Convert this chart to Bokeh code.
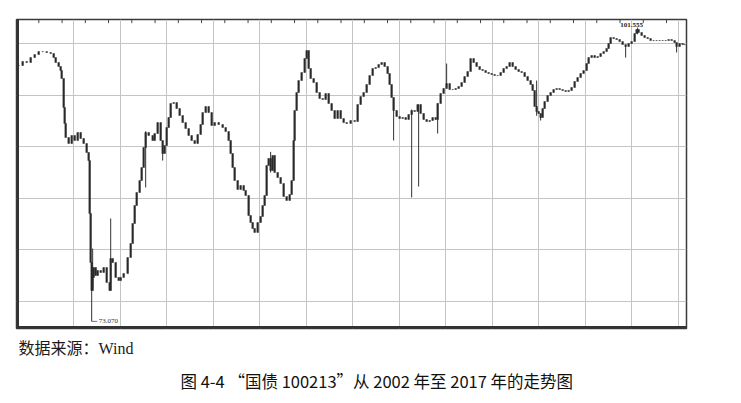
import numpy as np
from bokeh.plotting import figure
from bokeh.models import Range1d, Title, Label, FixedTicker, ColumnDataSource, Span
from bokeh.embed import file_html
from bokeh.resources import INLINE

# ---- data ----
t = [2002.817, 2002.903, 2002.989, 2003.075, 2003.161, 2003.247, 2003.333, 2003.419, 2003.505, 2003.570,
     2003.613, 2003.677, 2003.720, 2003.742, 2003.785, 2003.806, 2003.828, 2003.892, 2003.957, 2004.021,
     2004.086, 2004.150, 2004.215, 2004.279, 2004.322, 2004.344, 2004.365, 2004.387, 2004.408, 2004.430,
     2004.473, 2004.516, 2004.581, 2004.645, 2004.710, 2004.774, 2004.796, 2004.839, 2004.903, 2004.968,
     2005.011, 2005.075, 2005.161, 2005.226, 2005.269, 2005.312, 2005.355, 2005.419, 2005.462, 2005.505,
     2005.548, 2005.613, 2005.699, 2005.742, 2005.806, 2005.871, 2005.914, 2005.957, 2006.000, 2006.043,
     2006.086, 2006.150, 2006.215, 2006.279, 2006.344, 2006.408, 2006.473, 2006.537, 2006.602, 2006.666,
     2006.731, 2006.774, 2006.839, 2006.903, 2006.968, 2007.032, 2007.118, 2007.204, 2007.269, 2007.333,
     2007.376, 2007.419, 2007.462, 2007.527, 2007.591, 2007.656, 2007.699, 2007.763, 2007.806, 2007.849,
     2007.892, 2007.957, 2008.021, 2008.064, 2008.107, 2008.150, 2008.193, 2008.236, 2008.279, 2008.322,
     2008.387, 2008.451, 2008.516, 2008.580, 2008.645, 2008.688, 2008.731, 2008.752, 2008.795, 2008.838,
     2008.903, 2008.968, 2009.011, 2009.054, 2009.097, 2009.161, 2009.226, 2009.290, 2009.355, 2009.419,
     2009.484, 2009.548, 2009.613, 2009.677, 2009.742, 2009.806, 2009.871, 2009.957, 2010.043, 2010.107,
     2010.172, 2010.236, 2010.301, 2010.365, 2010.430, 2010.494, 2010.559, 2010.623, 2010.688, 2010.752,
     2010.795, 2010.838, 2010.881, 2010.946, 2011.010, 2011.075, 2011.140, 2011.204, 2011.269, 2011.333,
     2011.398, 2011.462, 2011.527, 2011.591, 2011.656, 2011.720, 2011.785, 2011.828, 2011.892, 2011.957,
     2012.021, 2012.086, 2012.150, 2012.215, 2012.279, 2012.344, 2012.408, 2012.473, 2012.537, 2012.602,
     2012.666, 2012.731, 2012.795, 2012.860, 2012.924, 2012.989, 2013.053, 2013.118, 2013.183, 2013.247,
     2013.312, 2013.376, 2013.441, 2013.505, 2013.570, 2013.634, 2013.699, 2013.763, 2013.828, 2013.871,
     2013.914, 2013.957, 2014.000, 2014.043, 2014.086, 2014.129, 2014.193, 2014.258, 2014.322, 2014.387,
     2014.451, 2014.516, 2014.580, 2014.645, 2014.709, 2014.774, 2014.838, 2014.903, 2014.967, 2015.032,
     2015.075, 2015.140, 2015.204, 2015.269, 2015.333, 2015.398, 2015.462, 2015.505, 2015.548, 2015.613,
     2015.677, 2015.742, 2015.806, 2015.871, 2015.935, 2016.000, 2016.065, 2016.107, 2016.150, 2016.215,
     2016.279, 2016.344, 2016.408, 2016.473, 2016.537, 2016.602, 2016.666, 2016.731, 2016.795, 2016.860,
     2016.924, 2016.967, 2017.032, 2017.096, 2017.139]

close = [97.87, 98.26, 98.16, 98.64, 98.93, 99.22, 99.22, 99.13, 99.03, 98.64,
         98.16, 97.77, 97.38, 96.61, 93.80, 92.25, 90.89, 90.31, 91.09, 90.60,
         91.38, 90.80, 90.31, 89.44, 88.66, 83.53, 78.78, 76.07, 77.33, 78.29,
         77.52, 78.00, 77.81, 78.29, 76.84, 76.07, 79.17, 78.78, 77.33, 77.03,
         77.33, 77.71, 79.26, 80.62, 82.56, 84.30, 85.56, 86.72, 87.98, 89.92,
         91.38, 91.09, 90.60, 91.28, 92.34, 90.60, 89.34, 90.11, 91.86, 92.83,
         94.19, 94.28, 93.70, 93.02, 92.34, 91.76, 91.09, 90.60, 90.31, 91.18,
         92.15, 93.31, 93.90, 93.31, 92.05, 92.34, 92.15, 91.86, 91.47, 90.60,
         89.34, 87.98, 86.72, 85.85, 86.24, 85.76, 85.27, 83.33, 82.65, 82.07,
         81.69, 82.65, 83.24, 84.30, 85.27, 88.18, 88.86, 87.69, 89.15, 87.50,
         87.01, 86.43, 85.17, 84.79, 85.37, 86.72, 90.60, 93.51, 95.25, 96.41,
         97.19, 98.55, 99.32, 97.58, 96.61, 96.22, 95.25, 94.67, 94.57, 95.16,
         94.19, 93.51, 92.73, 93.51, 92.73, 92.34, 92.25, 92.54, 92.44, 94.09,
         94.86, 95.25, 96.03, 96.90, 97.58, 97.67, 97.97, 98.16, 97.77, 97.09,
         96.03, 94.77, 93.51, 92.93, 92.73, 92.83, 92.64, 93.12, 93.51, 93.41,
         94.09, 93.22, 92.64, 92.44, 92.54, 92.83, 92.64, 94.19, 95.16, 95.64,
         96.12, 95.54, 95.54, 95.64, 95.83, 96.22, 96.80, 97.29, 98.55, 98.16,
         97.77, 97.48, 97.38, 97.19, 97.09, 97.00, 96.90, 96.90, 97.19, 97.58,
         97.77, 98.16, 97.77, 97.48, 97.29, 97.19, 96.80, 96.41, 96.03, 95.45,
         93.90, 93.41, 93.22, 92.83, 93.70, 94.38, 94.96, 95.25, 95.54, 95.64,
         95.54, 95.45, 95.35, 95.45, 95.74, 96.32, 96.71, 97.09, 97.38, 98.06,
         98.64, 98.84, 98.64, 98.74, 99.03, 99.22, 99.52, 100.00, 100.58, 100.48,
         100.39, 100.19, 99.90, 99.71, 100.00, 100.19, 100.97, 101.36, 101.07, 100.78,
         100.58, 100.48, 100.29, 100.29, 100.29, 100.29, 100.29, 100.29, 100.39, 100.29,
         100.10, 99.71, 100.00, 99.90, 99.90]

# long wicks (date, low, high)
spike_t = [2004.387, 2004.408, 2004.796, 2005.548, 2005.914, 2008.236, 2010.881, 2011.269,
           2011.419, 2011.828, 2012.021, 2013.957, 2014.043, 2015.871, 2016.129, 2016.967]
spike_lo = [73.07, 76.50, 76.80, 86.05, 88.66, 87.50, 90.60, 85.08,
            86.14, 91.28, 95.90, 93.00, 92.54, 98.64, 100.90, 99.13]
spike_hi = [78.78, 80.13, 83.04, 91.50, 89.90, 89.50, 93.60, 93.60,
            94.10, 94.20, 98.06, 96.41, 93.00, 99.80, 101.555, 99.90]

low_t, low_v, low_text = 2004.387, 73.07, "73.070"
high_t, high_v, high_text = 2016.129, 101.555, "101.555"

year_grid = list(range(2004, 2018))
quarter_ticks = [y + q for y in range(2003, 2018) for q in (0.25, 0.75)]
price_grid = [75, 80, 85, 90, 95, 100]

x_start, x_end = 2002.77, 2017.18
y_start, y_end = 72.38, 102.33

source_text = "数据来源：Wind"
caption_text = "图 4-4  “国债 100213”从 2002 年至 2017 年的走势图"

# ---- figure ----
n = min(len(t), len(close))
tt = np.array(t[:n])
cc = np.array(close[:n])
oo = np.concatenate([[cc[0]], cc[:-1]])
src = ColumnDataSource(dict(t=tt, top=np.maximum(oo, cc), bottom=np.minimum(oo, cc)))

p = figure(width=725, height=395, output_backend="svg", toolbar_location=None,
           x_range=Range1d(x_start, x_end), y_range=Range1d(y_start, y_end),
           min_border_left=16, min_border_right=39, min_border_top=19, min_border_bottom=67,
           background_fill_color="white", border_fill_color="white")

p.xaxis.visible = False
p.yaxis.visible = False
p.outline_line_color = "#3a3a3a"
p.outline_line_width = 1.5

p.xgrid.ticker = FixedTicker(ticks=year_grid)
p.ygrid.ticker = FixedTicker(ticks=price_grid)
p.xgrid.grid_line_color = "#c4c4c4"
p.ygrid.grid_line_color = "#c4c4c4"
p.xgrid.grid_line_width = 1
p.ygrid.grid_line_width = 1

# heavy left and bottom frame edges
p.add_layout(Span(location=x_start, dimension="height", line_color="#333333", line_width=5))
p.add_layout(Span(location=y_start, dimension="width", line_color="#333333", line_width=5))

# small ticks hanging from the top edge
p.segment(x0=quarter_ticks, x1=quarter_ticks, y0=[y_end] * len(quarter_ticks),
          y1=[y_end - 0.35] * len(quarter_ticks), line_color="#444444", line_width=1)

p.segment(x0=spike_t, x1=spike_t, y0=spike_lo, y1=spike_hi, line_color="#333333", line_width=1)
p.vbar(x="t", top="top", bottom="bottom", width=0.035, source=src,
       fill_color="#2b2b2b", line_color="#2b2b2b", line_width=0.5)

# extreme labels
p.segment(x0=[low_t], x1=[low_t + 0.12], y0=[low_v], y1=[low_v], line_color="#555555", line_width=0.8)
p.add_layout(Label(x=low_t, y=low_v, text=low_text, x_offset=7, text_baseline="middle",
                   text_font_size="7px", text_color="#333333", text_font="Liberation Serif"))
p.add_layout(Label(x=high_t, y=high_v, text=high_text, x_offset=-6, y_offset=0,
                   text_align="center", text_baseline="bottom",
                   text_font_size="7px", text_color="#222222", text_font_style="bold",
                   text_font="Liberation Serif"))

# captions below
srcl = Title(text=source_text, align="left", text_font_size="16px", text_color="#1a1a1a",
             text_font="Liberation Serif, Noto Sans CJK SC", text_font_style="normal",
             standoff=18, offset=2)
cap = Title(text=caption_text, align="left", text_font_size="16.5px", text_color="#111111",
            text_font="Noto Sans CJK SC", text_font_style="normal", standoff=2, offset=164)
p.add_layout(srcl, "below")
p.add_layout(cap, "below")

open("out.html", "w").write(file_html(p, INLINE))
